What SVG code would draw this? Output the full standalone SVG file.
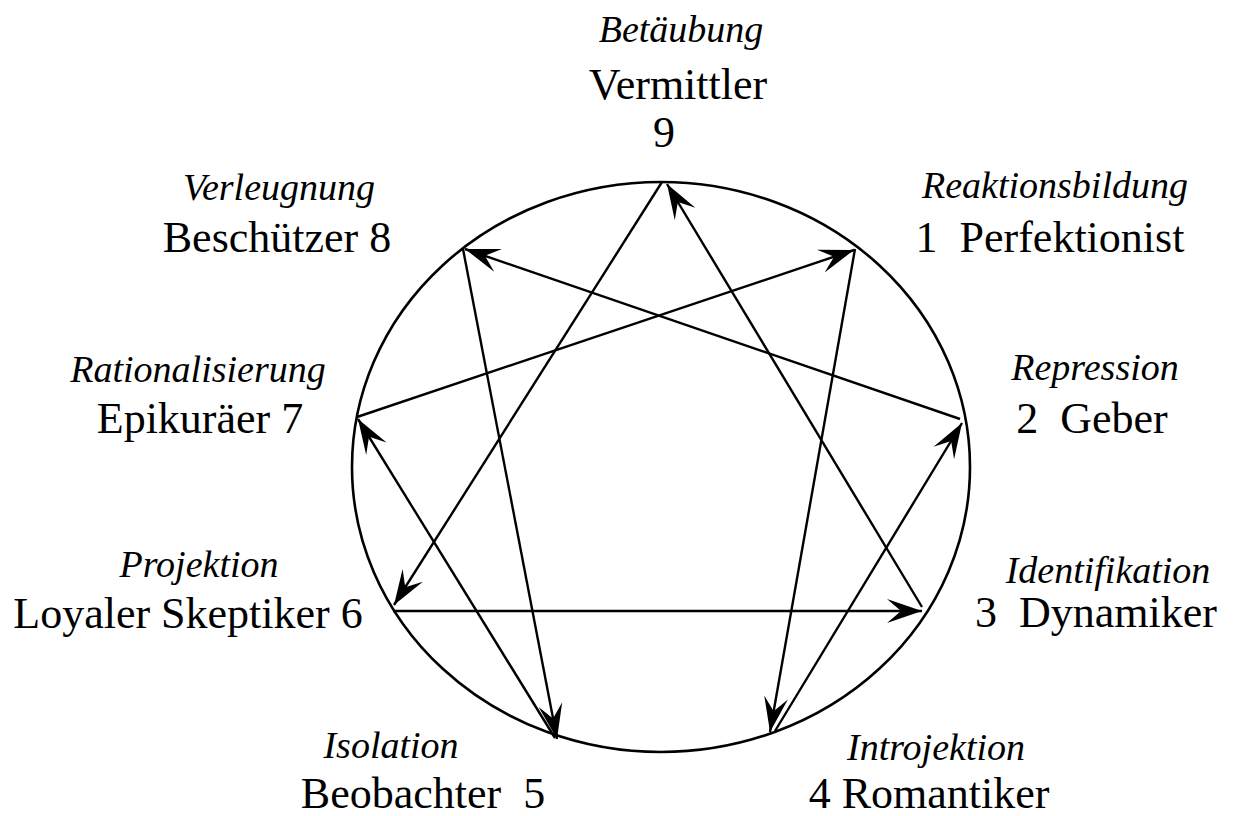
<svg xmlns="http://www.w3.org/2000/svg" width="1234" height="816" viewBox="0 0 1234 816">
<style>
.lbl{font-family:'Liberation Serif','Times New Roman',serif;font-size:44px;fill:#000;text-anchor:middle}
.it{font-family:'Liberation Serif','Times New Roman',serif;font-size:38px;font-style:italic;fill:#000;text-anchor:middle}
.edge{stroke:#000;stroke-width:2.4;fill:none;marker-end:url(#arr)}
</style>
<defs>
<marker id="arr" viewBox="-37 -14 38 28" markerWidth="38" markerHeight="28" refX="0" refY="0" markerUnits="userSpaceOnUse" orient="auto">
<path d="M0,0 L-35,-12 L-21,0 L-35,12 Z" fill="#000"/>
</marker>
</defs>
<rect width="1234" height="816" fill="#fff"/>
<ellipse id="circle" cx="661" cy="467" rx="309" ry="285" fill="none" stroke="#000" stroke-width="2.6"/>
<g id="connectors">
<line class="edge" x1="662" y1="182" x2="394" y2="605"/>
<line class="edge" x1="393" y1="611" x2="922" y2="611"/>
<line class="edge" x1="922" y1="607" x2="667" y2="184"/>
<line class="edge" x1="855" y1="249" x2="770" y2="732"/>
<line class="edge" x1="775" y1="731" x2="962" y2="423"/>
<line class="edge" x1="960" y1="419" x2="465" y2="249"/>
<line class="edge" x1="463" y1="249" x2="557" y2="739"/>
<line class="edge" x1="555" y1="738" x2="358" y2="419"/>
<line class="edge" x1="357" y1="417" x2="854" y2="250"/>
</g>
<g id="n9">
<text class="it" x="681" y="42">Betäubung</text>
<text class="lbl" x="678" y="99">Vermittler</text>
<text class="lbl" x="664" y="147">9</text>
</g>
<g id="n8">
<text class="it" x="279" y="200">Verleugnung</text>
<text class="lbl" x="277" y="252">Beschützer 8</text>
</g>
<g id="n7">
<text class="it" x="198" y="382">Rationalisierung</text>
<text class="lbl" x="200" y="433">Epikuräer 7</text>
</g>
<g id="n6">
<text class="it" x="199" y="577">Projektion</text>
<text class="lbl" x="188" y="628">Loyaler Skeptiker 6</text>
</g>
<g id="n1">
<text class="it" x="1055" y="198">Reaktionsbildung</text>
<text class="lbl" x="1050" y="252" xml:space="preserve">1  Perfektionist</text>
</g>
<g id="n2">
<text class="it" x="1095" y="380">Repression</text>
<text class="lbl" x="1092" y="433" xml:space="preserve">2  Geber</text>
</g>
<g id="n3">
<text class="it" x="1108" y="583">Identifikation</text>
<text class="lbl" x="1096" y="627" xml:space="preserve">3  Dynamiker</text>
</g>
<g id="n5">
<text class="it" x="391" y="758">Isolation</text>
<text class="lbl" x="423" y="808" xml:space="preserve">Beobachter  5</text>
</g>
<g id="n4">
<text class="it" x="936" y="760">Introjektion</text>
<text class="lbl" x="929" y="808">4 Romantiker</text>
</g>
</svg>
